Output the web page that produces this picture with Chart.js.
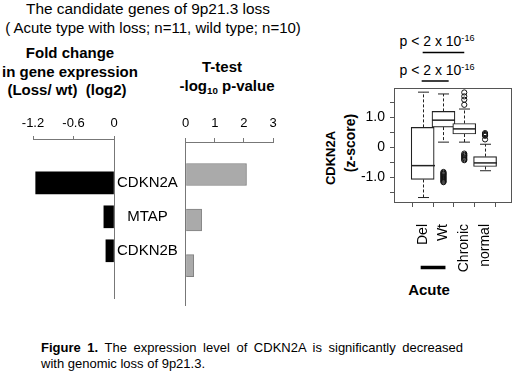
<!DOCTYPE html>
<html>
<head>
<meta charset="utf-8">
<script src="https://cdn.jsdelivr.net/npm/chart.js@4"></script>
<style>
  body { margin:0; width:520px; height:372px; position:relative; overflow:hidden; background:#fff;
         font-family:'Liberation Sans', Arial, sans-serif; color:#000; }
  .t { position:absolute; white-space:nowrap; line-height:1; transform:translate(-50%,-50%); }
  .l { position:absolute; white-space:nowrap; line-height:1; transform:translate(0,-50%); }
  .b { font-weight:bold; }
  .v { transform:translate(-50%,-50%) rotate(-90deg); }
  .sm { font-size:0.65em; position:relative; }
  canvas { position:absolute; }
</style>
</head>
<body>
<div class="t" style="left:148px;top:9px;font-size:15.4px">The candidate genes of 9p21.3 loss</div>
<div class="t" style="left:153px;top:27px;font-size:15px">( Acute type with loss; n=11, wild type; n=10)</div>

<div class="t b" style="left:70px;top:52px;font-size:15px">Fold change</div>
<div class="t b" style="left:70px;top:71px;font-size:15px">in gene expression</div>
<div class="t b" style="left:67px;top:89px;font-size:15px">(Loss/ wt)&nbsp; (log2)</div>
<div class="t b" style="left:222px;top:66px;font-size:15px">T-test</div>
<div class="t b" style="left:227px;top:85px;font-size:15px">-log<span class="sm" style="top:3px">10</span> p-value</div>

<div class="t" style="left:437px;top:41px;font-size:14px">p &lt; 2 x 10<span class="sm" style="top:-5px">-16</span></div>
<div class="t" style="left:437px;top:70px;font-size:14px">p &lt; 2 x 10<span class="sm" style="top:-5px">-16</span></div>
<div class="t b v" style="left:330px;top:158px;font-size:13px">CDKN2A</div>
<div class="t b v" style="left:350px;top:143px;font-size:14px">(z-score)</div>
<div class="t b" style="left:429px;top:289px;font-size:15px">Acute</div>

<div class="l" style="left:41px;top:347px;font-size:13px;word-spacing:3px"><b>Figure 1.</b> The expression level of CDKN2A is significantly decreased</div>
<div class="l" style="left:41px;top:363px;font-size:13px">with genomic loss of 9p21.3.</div>

<canvas id="foldChart" style="left:0;top:100px" width="186" height="210"></canvas>
<canvas id="pChart" style="left:175px;top:100px" width="110" height="210"></canvas>
<canvas id="boxChart" style="left:320px;top:30px" width="200" height="270"></canvas>

<script>
// left panels: candidate genes
const genes = ['CDKN2A', 'MTAP', 'CDKN2B'];
const foldChange = [-1.16, -0.15, -0.12];
const negLogP = [2.09, 0.55, 0.28];
const foldTicks = [-1.2, -0.6, 0];
const pTicks = [0, 1, 2, 3];

// box plot: CDKN2A z-score
const groups = ['Del', 'Wt', 'Chronic', 'normal'];
const zMin = [-1.67, 0.17, 0.17, -0.78];
const zQ1 = [-1.07, 0.67, 0.44, -0.64];
const zMedian = [-0.61, 0.90, 0.61, -0.52];
const zQ3 = [0.66, 1.19, 0.79, -0.31];
const zMax = [1.83, 1.77, 1.27, 0.10];
const zOutliers = [
  [],
  [-0.82, -0.85, -0.88, -0.9, -0.93, -0.96, -0.99, -1.02, -1.05, -1.08, -1.11, -1.14, -1.16],
  [1.82, 1.69, 1.58, 1.41, -0.21, -0.25, -0.28, -0.32, -0.36, -0.4, -0.43],
  [0.47, 0.44, 0.41, 0.38, 0.26]
];
const zTicks = [-1.5, -1, -0.5, 0, 0.5, 1, 1.5];
const sigBars = [[1, 3], [1, 2.25]];

Chart.defaults.font.family = "'Liberation Sans', Arial, sans-serif";
Chart.defaults.color = '#000';

const common = {
  responsive: false,
  animation: false,
  events: [],
  plugins: { legend: { display: false }, tooltip: { enabled: false } }
};

new Chart(document.getElementById('foldChart'), {
  type: 'bar',
  data: {
    datasets: [{
      data: genes.map((g, i) => ({ x: foldChange[i], y: i })),
      backgroundColor: '#000',
      borderWidth: 0,
      barThickness: 22
    }]
  },
  options: {
    ...common,
    indexAxis: 'y',
    layout: { padding: { left: 33, top: 0, right: 0, bottom: 5 } },
    scales: {
      x: {
        type: 'linear', position: 'top', min: -1.2, max: 0,
        afterBuildTicks: s => { s.ticks = foldTicks.map(v => ({ value: v })); },
        afterFit: s => { s.height = 39; },
        grid: { drawOnChartArea: false, tickLength: 3, color: '#777' },
        border: { color: '#777' },
        ticks: { font: { size: 13 }, padding: 5, autoSkip: false, callback: v => String(v) }
      },
      y: {
        type: 'linear', position: 'right', reverse: true, min: -0.51, max: 2.61,
        afterBuildTicks: s => { s.ticks = genes.map((g, i) => ({ value: i })); },
        afterFit: s => { s.width = 72; },
        grid: { display: false, drawTicks: false, tickLength: 0 },
        border: { color: '#777' },
        ticks: { font: { size: 15 }, padding: 3, crossAlign: 'center', autoSkip: false, callback: v => genes[v] }
      }
    }
  }
});

new Chart(document.getElementById('pChart'), {
  type: 'bar',
  data: {
    datasets: [{
      data: genes.map((g, i) => ({ x: negLogP[i], y: i })),
      backgroundColor: '#aaa',
      borderColor: '#808080',
      borderWidth: 1,
      barThickness: 22
    }]
  },
  options: {
    ...common,
    indexAxis: 'y',
    layout: { padding: { left: 10, top: 0, right: 12, bottom: 5 } },
    scales: {
      x: {
        type: 'linear', position: 'top', min: 0, max: 3,
        afterBuildTicks: s => { s.ticks = pTicks.map(v => ({ value: v })); },
        afterFit: s => { s.height = 42; },
        grid: { drawOnChartArea: false, tickLength: 4, color: '#777' },
        border: { color: '#777' },
        ticks: { font: { size: 13 }, padding: 7, autoSkip: false, callback: v => String(v) }
      },
      y: {
        type: 'linear', position: 'left', reverse: true, min: -0.457, max: 2.61,
        afterFit: s => { s.width = 0; },
        grid: { display: false },
        border: { color: '#777' },
        ticks: { display: false }
      }
    }
  }
});

// whiskers, medians, frame and annotation bars for the box plot
const boxParts = {
  id: 'boxParts',
  afterDatasetsDraw(chart) {
    const { ctx, chartArea: a, scales: { x, y } } = chart;
    const seg = (x1, y1, x2, y2) => { ctx.beginPath(); ctx.moveTo(x1, y1); ctx.lineTo(x2, y2); ctx.stroke(); };
    ctx.save();
    ctx.strokeStyle = '#222';
    groups.forEach((g, i) => {
      const cx = Math.round(x.getPixelForValue(i + 1)) + 0.5;
      ctx.lineWidth = 1;
      ctx.setLineDash([3, 2]);
      seg(cx, y.getPixelForValue(zQ3[i]), cx, y.getPixelForValue(zMax[i]));
      seg(cx, y.getPixelForValue(zQ1[i]), cx, y.getPixelForValue(zMin[i]));
      ctx.setLineDash([]);
      seg(cx - 5.5, y.getPixelForValue(zMax[i]), cx + 5.5, y.getPixelForValue(zMax[i]));
      seg(cx - 5.5, y.getPixelForValue(zMin[i]), cx + 5.5, y.getPixelForValue(zMin[i]));
      ctx.lineWidth = 1.5;
      seg(cx - 11.5, y.getPixelForValue(zMedian[i]), cx + 11.5, y.getPixelForValue(zMedian[i]));
    });
    ctx.lineWidth = 1;
    ctx.strokeStyle = '#555';
    ctx.strokeRect(Math.round(a.left) + 0.5, Math.round(a.top) + 0.5, Math.round(a.right - a.left) - 1, Math.round(a.bottom - a.top));

    ctx.strokeStyle = '#000';
    ctx.lineWidth = 1.5;
    seg(x.getPixelForValue(sigBars[0][0]), a.top - 35.5, x.getPixelForValue(sigBars[0][1]), a.top - 35.5);
    seg(x.getPixelForValue(sigBars[1][0]) - 1, a.top - 7, x.getPixelForValue(sigBars[1][1]), a.top - 7);

    ctx.lineWidth = 3.5;
    seg(x.getPixelForValue(1) - 2, a.bottom + 65.5, x.getPixelForValue(2) + 2, a.bottom + 65.5);
    ctx.restore();
  }
};

new Chart(document.getElementById('boxChart'), {
  type: 'bar',
  data: {
    datasets: [
      {
        type: 'scatter',
        data: zOutliers.flatMap((vals, i) => vals.map(v => ({ x: i + 1, y: v }))),
        pointRadius: 2.6,
        pointBackgroundColor: 'rgba(0,0,0,0)',
        pointBorderColor: '#111',
        pointBorderWidth: 1
      },
      {
        type: 'bar',
        data: groups.map((g, i) => ({ x: i + 1, y: [zQ1[i], zQ3[i]] })),
        backgroundColor: '#fff',
        borderColor: '#222',
        borderWidth: 1.2,
        borderSkipped: false,
        barThickness: 23
      }
    ]
  },
  options: {
    ...common,
    layout: { padding: { left: 0, top: 58, right: 3, bottom: 0 } },
    scales: {
      x: {
        type: 'linear', min: 0.33, max: 4.58,
        afterBuildTicks: s => { s.ticks = groups.map((g, i) => ({ value: i + 1 })); },
        afterFit: s => { s.height = 98; },
        grid: { drawOnChartArea: false, tickLength: 5, color: '#555' },
        border: { display: false },
        ticks: { font: { size: 14 }, padding: 17, minRotation: 90, maxRotation: 90, autoSkip: false,
                 callback: v => groups[v - 1] }
      },
      y: {
        type: 'linear', min: -1.818, max: 1.968,
        afterBuildTicks: s => { s.ticks = zTicks.map(v => ({ value: v })); },
        afterFit: s => { s.width = 74; },
        grid: { drawOnChartArea: false, tickLength: 4, color: '#555' },
        border: { display: false },
        ticks: { font: { size: 14 }, padding: 5, autoSkip: false,
                 callback: v => v === 0 ? '0' : (Number.isInteger(v) ? v.toFixed(1) : '') }
      }
    }
  },
  plugins: [boxParts]
});
</script>
</body>
</html>
